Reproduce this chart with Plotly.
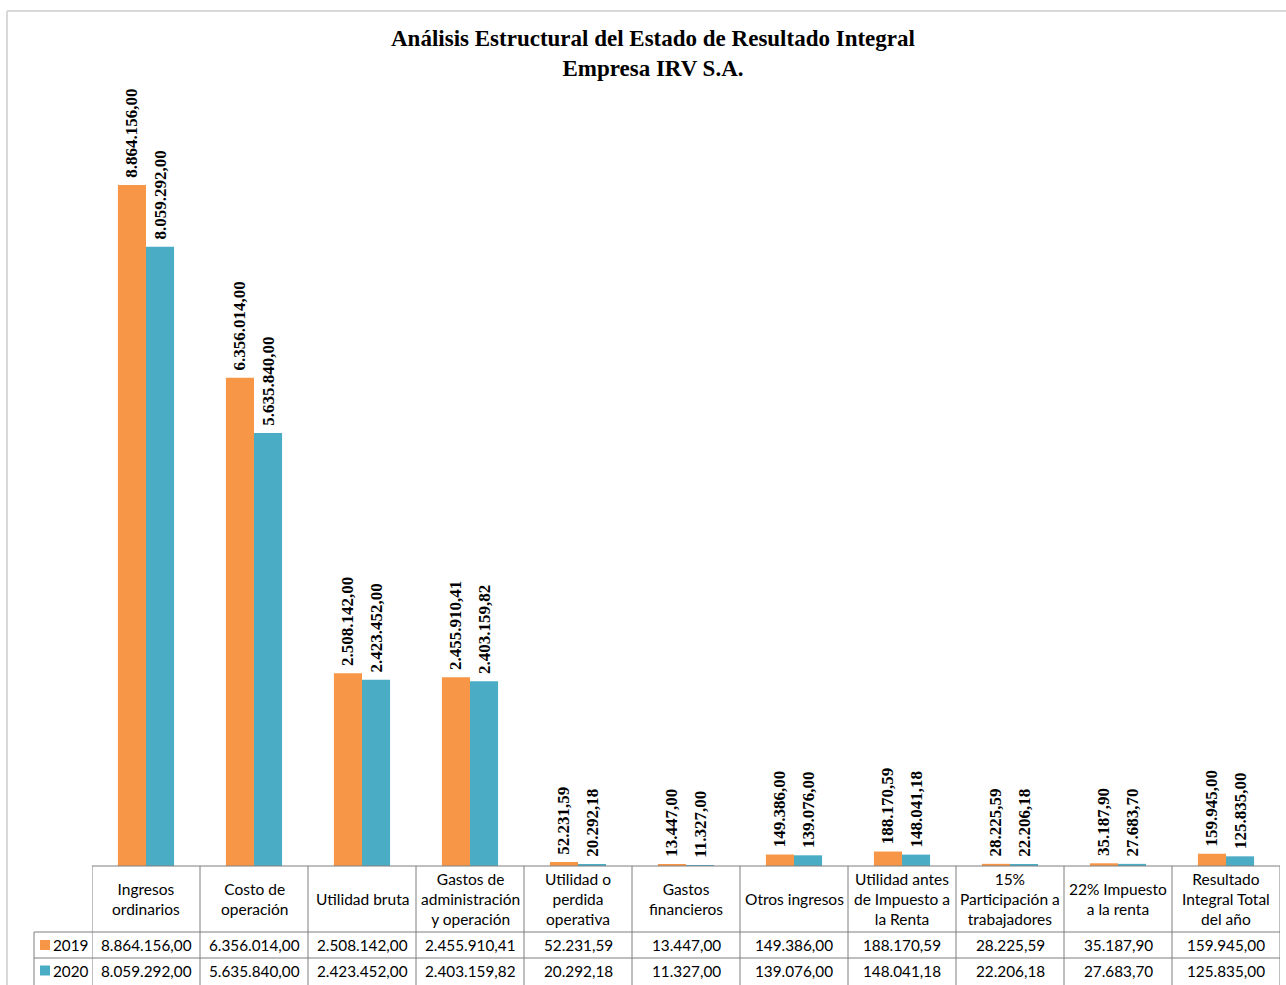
import plotly.graph_objects as go

W, H = 1286, 985

categories = [
    "Ingresos ordinarios", "Costo de operación", "Utilidad bruta",
    "Gastos de administración y operación", "Utilidad o perdida operativa",
    "Gastos financieros", "Otros ingresos", "Utilidad antes de Impuesto a la Renta",
    "15% Participación a trabajadores", "22% Impuesto a la renta",
    "Resultado Integral Total del año",
]
header_labels = [
    "Ingresos<br>ordinarios", "Costo de<br>operación", "Utilidad bruta",
    "Gastos de<br>administración<br>y operación", "Utilidad o<br>perdida<br>operativa",
    "Gastos<br>financieros", "Otros ingresos", "Utilidad antes<br>de Impuesto a<br>la Renta",
    "15%<br>Participación a<br>trabajadores", "22% Impuesto<br>a la renta",
    "Resultado<br>Integral Total<br>del año",
]
values_2019 = [8864156.00, 6356014.00, 2508142.00, 2455910.41, 52231.59, 13447.00,
               149386.00, 188170.59, 28225.59, 35187.90, 159945.00]
values_2020 = [8059292.00, 5635840.00, 2423452.00, 2403159.82, 20292.18, 11327.00,
               139076.00, 148041.18, 22206.18, 27683.70, 125835.00]
series_names = ["2019", "2020"]
colors = ["#F79646", "#4BACC6"]


def fmt(v):
    s = f"{v:,.2f}"
    return s.replace(",", "X").replace(".", ",").replace("X", ".")


def px_x(p):
    return p / W


def px_y(p):
    return 1 - p / H


fig = go.Figure()
for name, vals, col in zip(series_names, [values_2019, values_2020], colors):
    fig.add_bar(
        x=categories, y=vals, name=name, marker_color=col,
        marker_line_width=0,
        text=[fmt(v) for v in vals], texttemplate="\u00a0<b>%{text}</b>",
        textposition="outside", textangle=-90, constraintext="none",
        textfont=dict(family="Liberation Serif", size=17, color="black"),
        cliponaxis=False, showlegend=False,
    )

x0_px, x1_px = 92, 1280
base_px, top_px = 866, 90
fig.update_layout(
    width=W, height=H,
    margin=dict(l=0, r=0, t=0, b=0),
    paper_bgcolor="white", plot_bgcolor="white",
    barmode="group", bargap=0.48, bargroupgap=0,
    xaxis=dict(domain=[px_x(x0_px), px_x(x1_px)], showticklabels=False,
               showgrid=False, zeroline=False, showline=False, ticks="",
               range=[-0.5, len(categories) - 0.5]),
    yaxis=dict(domain=[px_y(base_px), px_y(top_px)], range=[0, 10.1e6],
               visible=False, showgrid=False, zeroline=False),
    font=dict(family="Lato", color="black"),
)

# title
fig.add_annotation(
    text="<b>Análisis Estructural del Estado de Resultado Integral<br>Empresa IRV S.A.</b>",
    x=px_x(653), y=px_y(54), xref="paper", yref="paper", showarrow=False,
    xanchor="center", yanchor="middle",
    font=dict(family="Liberation Serif", size=23, color="black"), align="center",
)

# outer chart border (light gray)
border = "#D9D9D9"
fig.add_shape(type="line", xref="paper", yref="paper", x0=px_x(7), x1=px_x(7),
              y0=px_y(11), y1=0, line=dict(color=border, width=2))
fig.add_shape(type="line", xref="paper", yref="paper", x0=px_x(7), x1=1,
              y0=px_y(11), y1=px_y(11), line=dict(color=border, width=2))

# data table grid
grid = "#7F7F7F"
n = len(categories)
header_top, row1_top, row2_top, bottom = 866, 932, 958, 990
legend_left = 34
gl = dict(color=grid, width=1)
fig.add_shape(type="line", xref="x", yref="paper", x0=-0.5, x1=n - 0.5,
              y0=px_y(header_top), y1=px_y(header_top), line=gl)
for yy in (row1_top, row2_top):
    fig.add_shape(type="line", xref="paper", yref="paper", x0=px_x(legend_left), x1=px_x(x1_px),
                  y0=px_y(yy), y1=px_y(yy), line=gl)
for i in range(n + 1):
    fig.add_shape(type="line", xref="x", yref="paper", x0=i - 0.5, x1=i - 0.5,
                  y0=px_y(header_top), y1=px_y(bottom), line=gl)
fig.add_shape(type="line", xref="paper", yref="paper", x0=px_x(legend_left), x1=px_x(legend_left),
              y0=px_y(row1_top), y1=px_y(bottom), line=gl)

# header texts
for cat, lab in zip(categories, header_labels):
    fig.add_annotation(text=lab, x=cat, xref="x", y=px_y((header_top + row1_top) / 2), yref="paper",
                       xanchor="center", yanchor="middle",
                       showarrow=False, font=dict(family="Lato", size=15.5, color="black"),
                       align="center")

# row texts
row_centers = [(row1_top + row2_top) / 2, (row2_top + 983) / 2]
for name, vals, col, yc in zip(series_names, [values_2019, values_2020], colors, row_centers):
    for cat, v in zip(categories, vals):
        fig.add_annotation(text=fmt(v), x=cat, xref="x", y=px_y(yc), yref="paper",
                           xanchor="center", yanchor="middle",
                           showarrow=False, font=dict(family="Lato", size=15.3, color="black"))
    fig.add_shape(type="rect", xref="paper", yref="paper", x0=px_x(40), x1=px_x(50),
                  y0=px_y(yc - 5), y1=px_y(yc + 5), fillcolor=col, line=dict(width=0))
    fig.add_annotation(text=name, x=px_x(71), y=px_y(yc), xref="paper", yref="paper",
                       xanchor="center", yanchor="middle",
                       showarrow=False, font=dict(family="Lato", size=15.3, color="black"))

fig.write_html("out.html")
